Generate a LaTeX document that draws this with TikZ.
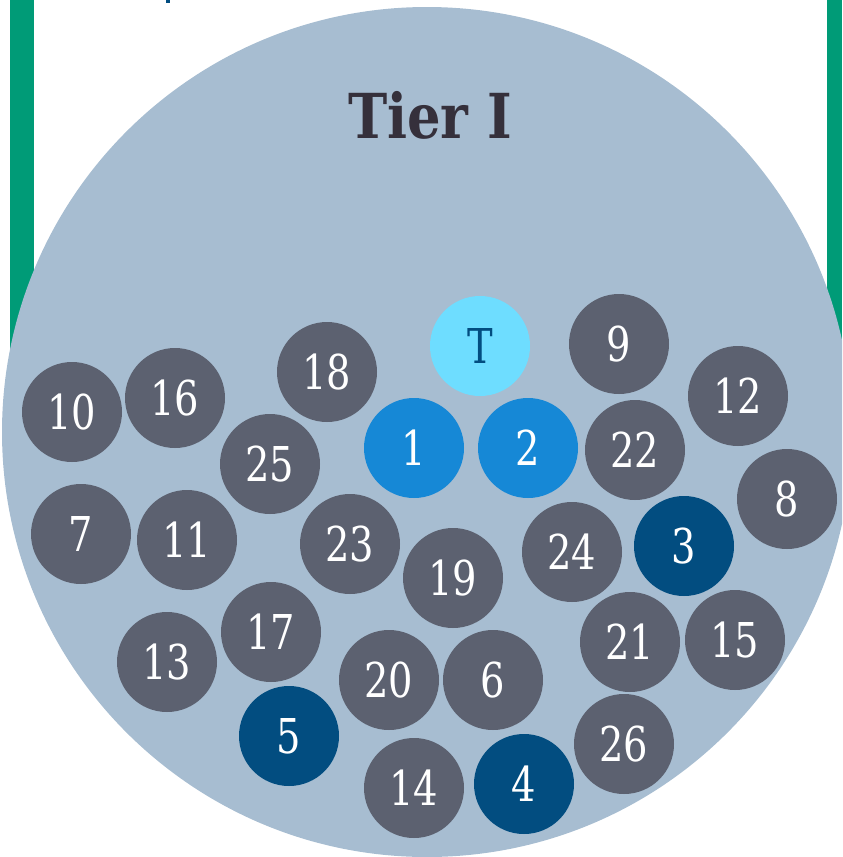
\documentclass[tikz,border=0pt]{standalone}
\usepackage{fontspec}
\setmainfont{DejaVu Serif}
\newfontfamily\ballfont[FakeStretch=0.8]{DejaVu Serif}
\newfontfamily\tierfont[FakeStretch=0.85]{DejaVu Serif}
\definecolor{tier-bg}{RGB}{167,189,209}
\definecolor{tier-green}{RGB}{0,155,119}
\definecolor{tier-grey}{RGB}{92,97,112}
\definecolor{tier-blue}{RGB}{22,136,214}
\definecolor{tier-navy}{RGB}{2,77,128}
\definecolor{tier-cyan}{RGB}{110,221,255}
\definecolor{tier-title}{RGB}{53,48,59}
\usetikzlibrary{positioning}

\begin{document}
\begin{tikzpicture}[
    x=0.5pt, y=-0.5pt,
    ball/.style={circle, fill=tier-grey, minimum size=50pt, inner sep=0pt, text=white, font=\ballfont\fontsize{24}{24}\selectfont},
    lead/.style={ball, fill=tier-blue},
    navy/.style={ball, fill=tier-navy},
    top/.style={ball, fill=tier-cyan, text=tier-navy}
]
\clip (0,0) rectangle (842,857);

% Fond
\fill[tier-green] (10,0) rectangle (34,380);
\fill[tier-green] (827,0) rectangle (842,360);
\fill[tier-navy] (166,0) rectangle (170,3);
\fill[tier-bg] (427,432) circle[radius=425];

% Titre
\node[text=tier-title, font=\tierfont\bfseries\fontsize{31}{31}\selectfont] (titre) at (430,115) {Tier I};

% Boules
\node[top] (t) at (480,346) {T};
\node[lead] (n1) at (414,448) {1};
\node[lead] (n2) at (528,448) {2};
\node[navy] (n3) at (684,546) {3};
\node[navy] (n4) at (524,784) {4};
\node[navy] (n5) at (289,736) {5};
\node[ball] (n6) at (493,680) {6};
\node[ball] (n7) at (81,534) {7};
\node[ball] (n8) at (787,499) {8};
\node[ball] (n9) at (619,344) {9};
\node[ball] (n10) at (72,412) {10};
\node[ball] (n11) at (187,540) {11};
\node[ball] (n12) at (738,396) {12};
\node[ball] (n13) at (167,662) {13};
\node[ball] (n14) at (414,788) {14};
\node[ball] (n15) at (735,640) {15};
\node[ball] (n16) at (175,398) {16};
\node[ball] (n17) at (271,632) {17};
\node[ball] (n18) at (327,372) {18};
\node[ball] (n19) at (453,578) {19};
\node[ball] (n20) at (389,680) {20};
\node[ball] (n21) at (630,642) {21};
\node[ball] (n22) at (635,450) {22};
\node[ball] (n23) at (350,544) {23};
\node[ball] (n24) at (572,552) {24};
\node[ball] (n25) at (270,464) {25};
\node[ball] (n26) at (624,744) {26};

\end{tikzpicture}
\end{document}
